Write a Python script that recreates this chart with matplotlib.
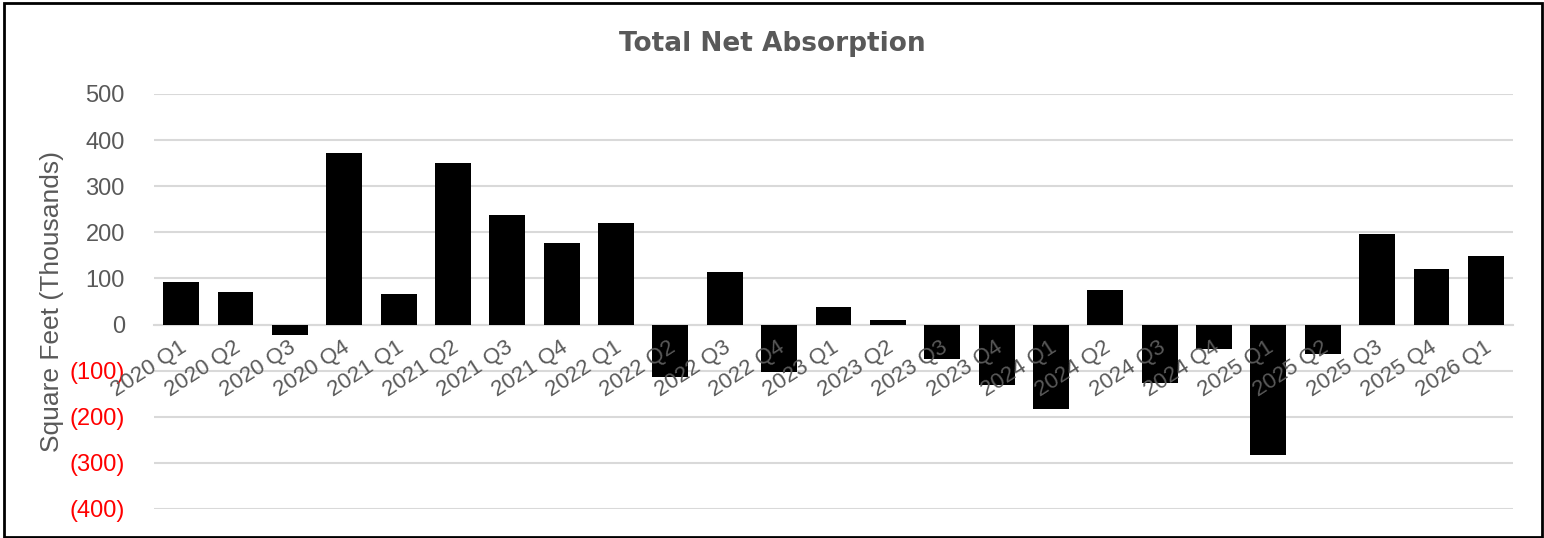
import matplotlib.pyplot as plt
from matplotlib.patches import Rectangle

# quarterly net absorption, thousands of sq ft
quarters = ["2020 Q1", "2020 Q2", "2020 Q3", "2020 Q4",
            "2021 Q1", "2021 Q2", "2021 Q3", "2021 Q4",
            "2022 Q1", "2022 Q2", "2022 Q3", "2022 Q4",
            "2023 Q1", "2023 Q2", "2023 Q3", "2023 Q4",
            "2024 Q1", "2024 Q2", "2024 Q3", "2024 Q4",
            "2025 Q1", "2025 Q2", "2025 Q3", "2025 Q4",
            "2026 Q1"]
absorption = [92, 70, -22, 372,
              67, 350, 237, 176,
              220, -113, 113, -102,
              37, 9, -74, -130,
              -183, 74, -126, -52,
              -283, -63, 196, 120,
              148]
y_ticks = [-400, -300, -200, -100, 0, 100, 200, 300, 400, 500]

plt.rcParams['font.family'] = ['Liberation Sans', 'DejaVu Sans']
grey = "#595959"

fig = plt.figure(figsize=(15.44, 5.38), dpi=100)
ax = fig.add_axes([154 / 1544, 1 - 509 / 538, (1513 - 154) / 1544, (509 - 94) / 538])

x = list(range(len(quarters)))
ax.bar(x, absorption, width=0.66, color="black", zorder=3)

ax.set_xlim(-0.5, len(quarters) - 0.5)
ax.set_ylim(-400, 500)
ax.set_yticks(y_ticks)
ax.set_yticklabels([f"({-v})" if v < 0 else str(v) for v in y_ticks])
for lbl, v in zip(ax.get_yticklabels(), y_ticks):
    lbl.set_color("red" if v < 0 else grey)
ax.tick_params(axis="y", length=0, labelsize=17, pad=21)

ax.grid(axis="y", color="#d9d9d9", linewidth=1.5, zorder=0)
for s in ["top", "right", "left"]:
    ax.spines[s].set_visible(False)
ax.spines["bottom"].set_position(("data", 0))
ax.spines["bottom"].set_color("#d9d9d9")
ax.spines["bottom"].set_linewidth(1.5)

# category labels sit at the zero line, drawn over the bars (like Excel)
ax.set_xticks(x)
ax.set_xticklabels([])
ax.tick_params(axis="x", length=0)
for i, q in enumerate(quarters):
    ax.annotate(q, (i, 0), xytext=(-2, -12), textcoords="offset pixels",
                rotation=33, rotation_mode="anchor", ha="right", va="top",
                fontsize=16, color=grey, zorder=5)

ax.set_ylabel("Square Feet (Thousands)", fontsize=19, color=grey)
ax.yaxis.set_label_coords(-0.066, 0.5)
fig.text(0.5, 1 - 44 / 538, "Total Net Absorption", ha="center", va="center",
         fontsize=19, fontweight="bold", color=grey, family="DejaVu Sans")

# outer frame
fig.patches.append(Rectangle((4 / 1544, 1 / 538), 1538 / 1544, 534 / 538,
                             transform=fig.transFigure, fill=False,
                             edgecolor="black", linewidth=2))

fig.savefig("out.png", dpi=100)
